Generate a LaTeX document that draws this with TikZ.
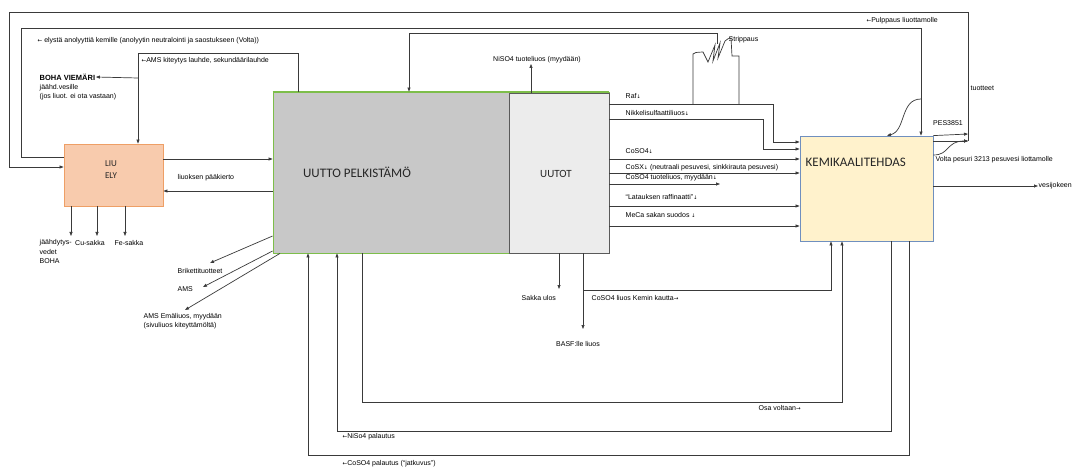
\documentclass[tikz,border=0pt]{standalone}
\usepackage{fontspec}
\setmainfont{Liberation Sans}
\newfontfamily\boxfont{Carlito}
\newfontfamily\arrfont{DejaVu Sans}
\usetikzlibrary{arrows.meta,calc}
\newcommand{\myda}{{\arrfont\fontsize{5}{5}\selectfont ↓}}
\newcommand{\myla}{{\arrfont\fontsize{5.5}{5}\selectfont ←}}
\newcommand{\myra}{{\arrfont\fontsize{5.5}{5}\selectfont →}}
\definecolor{ln}{HTML}{3A3A3A}
\definecolor{uuttofill}{HTML}{C8C8C8}
\definecolor{uuttoline}{HTML}{7DBE4A}
\definecolor{uutotfill}{HTML}{ECECEC}
\definecolor{uutotline}{HTML}{5A5A5A}
\definecolor{liufill}{HTML}{F8CBAD}
\definecolor{liuline}{HTML}{EE9F66}
\definecolor{kemifill}{HTML}{FFF2CC}
\definecolor{kemiline}{HTML}{6F8FBF}
\definecolor{boxtxt}{HTML}{262626}
\begin{document}
\begin{tikzpicture}[x=1pt,y=-1pt,
  every node/.style={inner sep=0.5pt},
  lbl/.style={font=\fontsize{7}{8.5}\selectfont, text=black},
  box/.style={line width=0.8pt, inner sep=0pt},
  boxlbl/.style={text=boxtxt},
  conn/.style={draw=ln, line width=0.7pt},
  arr/.style={conn, -{Triangle[length=4pt,width=3pt]}},
]
\useasboundingbox[fill=white] (0,0) rectangle (1072,468);

% ---------- boxes ----------
\node[box, fill=uuttofill, draw=uuttoline, minimum width=336pt, minimum height=161pt] (uutto) at (441,172.5) {};
\node[box, fill=uutotfill, draw=uutotline, minimum width=100pt, minimum height=160pt] (uutot) at (559,173) {};
\draw[uuttoline, line width=0.8pt] (uutto.north west) -- (uutto.north east);
\node[box, fill=liufill, draw=liuline, minimum width=99pt, minimum height=62pt] (liu) at (113.5,175) {};
\node[box, fill=kemifill, draw=kemiline, minimum width=133pt, minimum height=105pt] (kemi) at (866.5,188.5) {};

\node[boxlbl, font=\boxfont\fontsize{13}{15}\selectfont] (tuutto) at (357,172) {UUTTO PELKISTÄMÖ};
\node[boxlbl, font=\boxfont\fontsize{11}{13}\selectfont] (tuutot) at (556,174) {UUTOT};
\node[boxlbl, font=\boxfont\fontsize{9}{12}\selectfont, align=center] (tliu) at (111,170) {LIU\\ELY};
\node[boxlbl, font=\boxfont\fontsize{13}{15}\selectfont, anchor=west] (tkemi) at (805,162) {KEMIKAALITEHDAS};

% ---------- named free ends ----------
\coordinate (outR) at (968,141);
\coordinate (outTL) at (9,12);
\coordinate (anoTL) at (21,28);
\coordinate (pb) at (921,99);
\coordinate (amsT) at (138,53);
\coordinate (bj) at (138,78);
\coordinate (sz) at (717,44);
\coordinate (stT) at (409,33);
\coordinate (rafB) at (773,142);
\coordinate (nikB) at (763,149);
\coordinate (cotuo) at (720,184);
\coordinate (d1) at (71,236);
\coordinate (d2) at (97,236);
\coordinate (d3) at (125,236);
\coordinate (g1) at (210,263);
\coordinate (g2) at (203,287);
\coordinate (g3) at (185,310);
\coordinate (sak) at (559,289);
\coordinate (basf) at (583,329);
\coordinate (kj) at (583,290);
\coordinate (osa) at (842,402);
\coordinate (nip) at (337,431);
\coordinate (cop) at (308,455);

% ---------- labels ----------
\node[lbl, anchor=west] (lanol) at (37,41) {\myla\ elystä anolyyttiä kemille (anolyytin neutralointi ja saostukseen (Volta))};
\node[lbl, anchor=west] (lams) at (141,61) {\myla AMS kiteytys lauhde, sekundäärilauhde};
\node[lbl, anchor=west, font=\bfseries\fontsize{7.5}{8.5}\selectfont] (boha) at (39,77) {BOHA VIEMÄRI};
\node[lbl, anchor=west] (ljaah) at (39,88) {jäähd.vesille};
\node[lbl, anchor=west] (ljos) at (39,97) {(jos liuot. ei ota vastaan)};
\node[lbl, anchor=west] (lpulp) at (866,21) {\myla Pulppaus liuottamolle};
\node[lbl, anchor=west] (lstrip) at (728,40) {Strippaus};
\node[lbl, anchor=west] (ltuot) at (970,88) {tuotteet};
\node[lbl] (lpes) at (948,123) {PES3851};
\node[lbl, anchor=west] (lvolta) at (935,160) {Volta pesuri 3213 pesuvesi liottamolle};
\node[lbl, anchor=west] (vesi) at (1038,186) {vesijokeen};
\node[lbl] (niso) at (537,60) {NiSO4 tuoteliuos (myydään)};
\node[lbl, anchor=west] (lpaa) at (177,178) {liuoksen pääkierto};

\node[lbl, anchor=west] (lraf) at (625,96) {Raf\myda};
\node[lbl, anchor=west] (lnik) at (625,113) {Nikkelisulfaattiliuos\myda};
\node[lbl, anchor=west] (lcoso) at (625,151) {CoSO4\myda};
\node[lbl, anchor=west] (lcosx) at (625,168) {CoSX\myda\ (neutraali pesuvesi, sinkkirauta pesuvesi)};
\node[lbl, anchor=west] (lcotuo) at (625,178) {CoSO4 tuoteliuos, myydään\myda};
\node[lbl, anchor=west] (llat) at (625,197) {“Latauksen raffinaatti”\myda};
\node[lbl, anchor=west] (lmeca) at (625,215) {MeCa sakan suodos \myda};

\node[lbl, anchor=north west, align=left, font=\fontsize{7}{9.5}\selectfont] (ljv) at (39,239) {jäähdytys-\\vedet\\BOHA};
\node[lbl] (lcu) at (90,243) {Cu-sakka};
\node[lbl] (lfe) at (129,243) {Fe-sakka};
\node[lbl, anchor=west] (lbri) at (177,271) {Brikettituotteet};
\node[lbl, anchor=west] (lams2) at (177,289) {AMS};
\node[lbl, anchor=west] (lema) at (143,317) {AMS Emäliuos, myydään};
\node[lbl, anchor=west] (lsivu) at (143,326) {(sivuliuos kiteyttämöltä)};

\node[lbl, anchor=west] (lsak) at (521,298) {Sakka ulos};
\node[lbl] (lbasf) at (578,344) {BASF:lle liuos};
\node[lbl, anchor=west] (lkemin) at (591,298) {CoSO4 liuos Kemin kautta\myra};
\node[lbl, anchor=west] (losa) at (758,408) {Osa voltaan\myra};
\node[lbl, anchor=west] (lnip) at (342,437) {\myla NiSo4 palautus};
\node[lbl, anchor=west] (lcop) at (342,464) {\myla CoSO4 palautus (“jatkuvus”)};

% ---------- connectors ----------
% outer loop (pulppaus liuottamolle)
\draw[arr] (outR) |- (outTL) |- (liu.west |- 0,167);
\draw[arr] (kemi.north east) -- (outR |- 0,134);
\draw[arr] (kemi.east |- 0,141) -- (outR);
\draw[arr] (kemi.east |- 0,155) .. controls (950,155) and (946,141) .. (outR);
% anolyte loop
\draw[arr] (liu.west |- 0,157) -| (anoTL) -| (kemi.north -| pb);
\draw[arr] (pb) .. controls (900,99) and (906,131) .. (kemi.north -| 887,0);
% AMS condensate
\draw[arr] (uutto.north -| 298,0) |- (amsT) -- (liu.north -| amsT);
\draw[arr] (bj) -- (boha.east);
% strippaus
\draw[conn] (693,104) -- (693,54) .. controls (697,51) and (700,53) .. (703,52) -- (708,62) -- (715,45) -- (713,61) -- (720,43) -- (718,58) -- (725,41) .. controls (727,39) and (729,38) .. (731,38) -- (732,56) -- (739,56) -- (739,104);
\draw[arr] (sz) |- (stT) -- (uutto.north -| stT);
% NiSO4 product
\draw[arr] (uutot.north -| 531,0) -- (niso.south -| 531,0);
% UUTOT -> KEMI
\draw[arr] (uutot.east |- 0,104) -| (rafB) -- (kemi.west |- rafB);
\draw[arr] (uutot.east |- 0,119) -| (nikB) -- (kemi.west |- nikB);
\draw[arr] (uutot.east |- 0,159) -- (kemi.west |- 0,159);
\draw[arr] (uutot.east |- 0,173) -- (kemi.west |- 0,173);
\draw[arr] (uutot.east |- cotuo) -- (cotuo);
\draw[arr] (uutot.east |- 0,206) -- (kemi.west |- 0,206);
\draw[arr] (uutot.east |- 0,226) -- (kemi.west |- 0,226);
% LIU <-> UUTTO
\draw[arr] (liu.east |- 0,159) -- (uutto.west |- 0,159);
\draw[arr] (uutto.west |- 0,191) -- (liu.east |- 0,191);
% LIU outputs
\draw[arr] (liu.south -| d1) -- (d1);
\draw[arr] (liu.south -| d2) -- (d2);
\draw[arr] (liu.south -| d3) -- (d3);
% UUTTO side outputs
\draw[arr] (uutto.west |- 0,236) -- (g1);
\draw[arr] (uutto.west |- 0,251) -- (g2);
\draw[arr] (uutto.south -| 280,0) -- (g3);
% UUTOT bottom
\draw[arr] (uutot.south -| sak) -- (sak);
\draw[arr] (uutot.south -| basf) -- (basf);
\draw[arr] (kj) -| (kemi.south -| 831,0);
% bottom loops
\draw[arr] (uutto.south -| 362,0) |- (osa) -- (kemi.south -| osa);
\draw[arr] (kemi.south -| 891,0) |- (nip) -- (uutto.south -| nip);
\draw[arr] (kemi.south -| 909,0) |- (cop) -- (uutto.south -| cop);
% vesijokeen
\draw[arr] (kemi.east |- vesi) -- (vesi.west);
\end{tikzpicture}
\end{document}
